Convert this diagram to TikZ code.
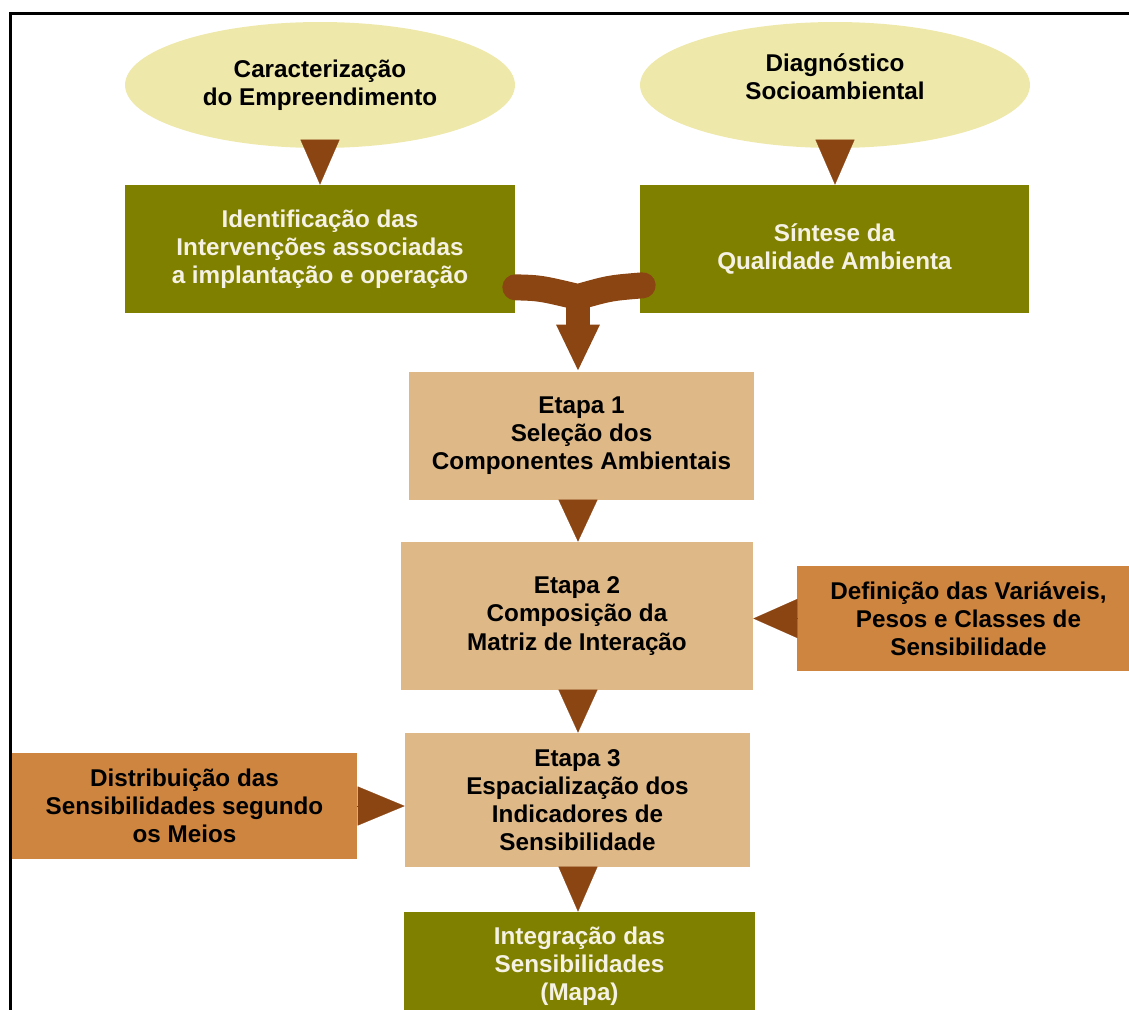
\documentclass[tikz,border=0pt]{standalone}
\usepackage{fontspec}
\setmainfont{Liberation Sans}
\usetikzlibrary{shapes.geometric,arrows.meta,calc}
\definecolor{palegold}{RGB}{238,232,170}
\definecolor{olivegreen}{RGB}{128,128,0}
\definecolor{stagetan}{RGB}{222,184,135}
\definecolor{inputperu}{RGB}{205,133,63}
\definecolor{arrowbrown}{RGB}{139,69,19}
\definecolor{creamtext}{RGB}{245,242,228}
\begin{document}
\begin{tikzpicture}[x=0.02cm, y=-0.02cm,
    every node/.style={font=\fontsize{13.8}{16}\selectfont\bfseries, align=center, inner sep=0pt},
    topellipse/.style={ellipse, fill=palegold, minimum width=7.8cm, minimum height=2.52cm},
    olivebox/.style={fill=olivegreen, text=creamtext},
    stagebox/.style={fill=stagetan},
    inputbox/.style={fill=inputperu},
    tri/.style={arrowbrown, line width=0.1pt, -{Triangle[length=#1, width=0.78cm]}}]
    \useasboundingbox (0,0) rectangle (1129,1010);
    \clip (0,0) rectangle (1129,1010);
    \node[topellipse] (carac) at (320,85) {Caracterização\\do Empreendimento};
    \node[topellipse, text depth=10pt] (diag) at (835,85) {Diagnóstico\\Socioambiental};
    \node[olivebox, minimum width=7.8cm, minimum height=2.56cm] (ident) at (320,249) {Identificação das\\Intervenções associadas\\a implantação e operação};
    \node[olivebox, minimum width=7.78cm, minimum height=2.56cm] (sintese) at (834.5,249) {Síntese da\\Qualidade Ambienta};
    \node[stagebox, minimum width=6.9cm, minimum height=2.56cm] (etapa1) at (581.5,436) {Etapa 1\\Seleção dos\\Componentes Ambientais};
    \node[stagebox, minimum width=7.04cm, minimum height=2.96cm] (etapa2) at (577,616) {Etapa 2\\Composição da\\Matriz de Interação};
    \node[stagebox, minimum width=6.9cm, minimum height=2.68cm] (etapa3) at (577.5,800) {Etapa 3\\Espacialização dos\\Indicadores de\\Sensibilidade};
    \node[olivebox, minimum width=7.02cm, minimum height=2.16cm] (integ) at (579.5,966) {Integração das\\Sensibilidades\\(Mapa)};
    \node[inputbox, minimum width=6.86cm, minimum height=2.1cm] (defin) at (968.5,618.5) {Definição das Variáveis,\\Pesos e Classes de\\Sensibilidade};
    \node[inputbox, minimum width=6.9cm, minimum height=2.12cm] (distr) at (184.5,806) {Distribuição das\\Sensibilidades segundo\\os Meios};
    \draw[tri=0.9cm] (carac.south) -- (ident.north);
    \draw[tri=0.9cm] (diag.south) -- (diag.south |- sintese.north);
    \coordinate (join) at (578,297);
    \draw[arrowbrown, line width=0.52cm, line cap=round, line join=round] ($(ident.south east)+(0,-26)$) .. controls (540,288) .. (join) .. controls (610,288) .. ($(sintese.south west)+(3,-28)$);
    \draw[arrowbrown, line width=0.48cm, -{Triangle[length=0.94cm, width=0.8cm]}] (join) -- (join |- etapa1.north);
    \draw[tri=0.84cm] (join |- etapa1.south) -- (join |- etapa2.north);
    \draw[tri=0.86cm] (join |- etapa2.south) -- (join |- etapa3.north);
    \draw[tri=0.9cm] (join |- etapa3.south) -- (join |- integ.north);
    \draw[tri=0.88cm] (defin.west) -- (etapa2.east |- defin.west);
    \draw[tri=0.94cm] (distr.east) -- (etapa3.west |- distr.east);
    \draw[line width=0.06cm] (1129,13.5) -- (10.5,13.5) -- (10.5,1010);
\end{tikzpicture}
\end{document}
